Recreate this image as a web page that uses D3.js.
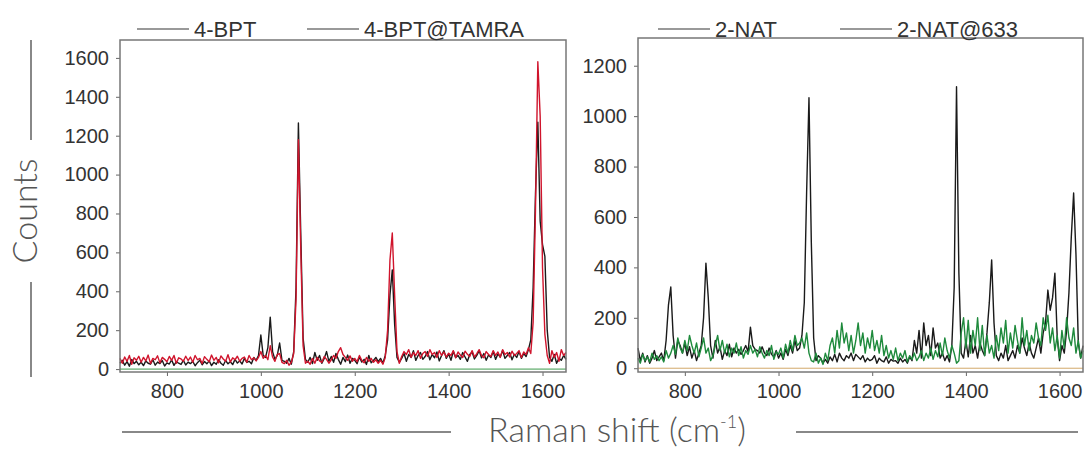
<!DOCTYPE html>
<html>
<head>
<meta charset="utf-8">
<script src="https://cdn.jsdelivr.net/npm/d3@7"></script>
<style>
  body { margin: 0; background: #fff; }
  svg { display: block; }
  .tick text { font-family: "Liberation Sans", Arial, sans-serif; font-size: 20px; fill: #333; }
  .tick line { stroke: #666; }
  .legend text { font-family: "Liberation Sans", Arial, sans-serif; font-size: 22px; fill: #333; }
  .title { font-family: Lato, "Open Sans", sans-serif; font-weight: 300; fill: #555; }
</style>
</head>
<body>
<div id="chart"></div>
<script>
// Raman shift grid, cm-1 (700 .. 1650, 5 cm-1 step)
const shifts = d3.range(700, 1651, 5);
const xTicks = [800, 1000, 1200, 1400, 1600];
const leftTicks = [0, 200, 400, 600, 800, 1000, 1200, 1400, 1600];
const rightTicks = [0, 200, 400, 600, 800, 1000, 1200];

// left panel
const bpt = [
  30,45,20,38,15,50,28,40,22,35,
  18,42,30,25,48,20,36,28,44,16,
  32,26,47,19,38,30,24,45,21,36,
  28,40,17,33,46,22,39,27,42,18,
  35,25,48,30,20,44,27,38,23,50,
  31,42,26,55,34,40,28,60,45,70,
  175,70,60,110,267,90,50,70,134,45,
  40,30,55,25,90,420,1265,700,160,50,
  35,60,28,85,45,70,30,55,90,40,
  65,35,80,50,25,60,38,72,30,55,
  45,28,62,36,50,24,70,32,45,60,
  38,55,30,70,150,380,510,230,60,35,
  55,80,40,75,60,95,45,70,85,50,
  65,90,48,75,58,88,42,70,95,55,
  78,45,92,60,70,50,85,62,40,75,
  88,52,70,95,58,80,45,72,60,90,
  50,78,62,95,55,70,85,48,76,60,
  90,55,80,65,100,150,420,900,1270,760,
  640,580,200,60,40,75,30,55,45,70,
  50
];
const bptTamra = [
  55,30,62,40,70,25,58,45,66,35,
  60,42,72,28,55,48,68,32,60,50,
  38,65,45,70,30,58,52,40,66,44,
  62,35,70,48,55,28,64,50,38,72,
  45,60,32,68,52,40,74,36,58,48,
  66,40,55,62,35,70,48,58,42,60,
  90,55,70,48,120,62,40,75,80,35,
  28,45,20,35,80,360,1180,620,120,30,
  40,25,55,30,60,42,35,65,50,30,
  48,70,55,90,110,75,60,45,68,40,
  55,38,70,45,32,60,40,55,35,48,
  30,45,25,60,200,560,700,380,90,30,
  65,90,75,100,60,85,70,95,55,80,
  90,65,100,75,85,60,95,70,88,62,
  82,70,95,58,88,72,60,92,76,65,
  95,62,80,100,70,58,90,75,65,95,
  70,88,60,100,75,85,62,92,70,80,
  95,60,88,75,110,80,240,820,1580,1300,
  520,180,70,30,95,60,85,40,100,70,
  85
];

// right panel
const nat = [
  80,30,60,25,50,20,40,70,30,45,
  60,30,110,250,322,130,40,110,90,60,
  100,50,85,40,70,30,60,90,200,417,
  280,90,40,110,60,85,35,70,50,95,
  45,80,60,75,55,70,90,65,163,90,
  75,70,60,85,60,50,80,55,45,70,
  40,60,35,75,50,90,60,110,70,80,
  130,260,700,1073,500,120,30,50,40,20,
  35,20,45,30,55,25,60,40,30,50,
  40,60,30,55,45,35,50,25,40,30,
  35,50,20,40,30,25,45,20,35,28,
  30,20,40,25,35,20,45,30,110,60,
  150,40,180,90,130,50,160,80,100,40,
  60,30,50,25,90,320,1117,380,60,40,
  110,45,130,60,90,40,100,70,50,140,
  260,430,180,50,30,60,40,90,30,50,
  70,40,90,60,120,80,50,100,60,40,
  80,120,60,140,180,310,230,280,377,120,
  30,90,60,150,300,520,695,450,100,40,
  90
];
const nat633 = [
  40,20,55,30,45,25,60,35,50,30,
  45,25,70,40,60,90,55,120,80,60,
  110,70,130,90,60,100,45,80,120,60,
  80,30,50,90,130,70,110,60,95,45,
  80,60,100,50,85,40,70,55,90,60,
  75,45,85,60,40,70,50,90,35,65,
  55,80,40,95,60,110,70,130,90,100,
  120,80,140,60,30,25,60,20,40,15,
  60,30,90,120,60,150,80,180,100,140,
  70,130,60,110,180,90,140,60,120,80,
  150,70,110,60,130,50,90,40,70,35,
  80,30,60,40,70,25,50,35,60,30,
  45,70,30,60,40,80,35,70,45,100,
  50,120,70,40,90,60,20,30,140,200,
  80,190,60,150,90,200,70,170,50,130,
  60,90,40,130,70,160,100,190,60,140,
  80,170,110,60,200,90,150,70,130,100,
  180,120,90,200,150,210,100,160,70,130,
  40,150,80,200,120,90,160,60,110,40,
  70
];

const W = 1092, H = 452;
const svg = d3.select("#chart").append("svg")
  .attr("width", W)
  .attr("height", H);

const panels = [
  {
    x: d3.scaleLinear().domain([700, 1650]).range([120, 566]),
    y: d3.scaleLinear().domain([-15, 1692]).range([372, 40]),
    ticks: leftTicks,
    zero: "#3c9a4a",
    series: [{ values: bpt, color: "#1a1a1a" }, { values: bptTamra, color: "#d0142c" }],
    legend: [{ label: "4-BPT", x: 137 }, { label: "4-BPT@TAMRA", x: 307 }]
  },
  {
    x: d3.scaleLinear().domain([700, 1650]).range([638, 1083]),
    y: d3.scaleLinear().domain([-15, 1310]).range([372, 38]),
    ticks: rightTicks,
    zero: "#d2a86a",
    series: [{ values: nat, color: "#1a1a1a" }, { values: nat633, color: "#1e8a3c" }],
    legend: [{ label: "2-NAT", x: 658 }, { label: "2-NAT@633", x: 840 }]
  }
];

panels.forEach(function(p) {
  let [x0, x1] = p.x.range();
  let [y0, y1] = p.y.range();

  // axes
  svg.append("g")
    .attr("transform", "translate(" + x0 + ",0)")
    .call(d3.axisLeft(p.y).tickValues(p.ticks).tickFormat(d3.format("d")).tickSize(4).tickPadding(7))
    .call(g => g.select(".domain").remove());
  svg.append("g")
    .attr("transform", "translate(0," + y0 + ")")
    .call(d3.axisBottom(p.x).tickValues(xTicks).tickFormat(d3.format("d")).tickSize(4).tickPadding(8))
    .call(g => g.select(".domain").remove());

  // zero line
  svg.append("line")
    .attr("x1", x0).attr("x2", x1)
    .attr("y1", p.y(0)).attr("y2", p.y(0))
    .attr("stroke", p.zero).attr("stroke-width", 1);

  // spectra
  let line = d3.line()
    .x((d, i) => p.x(shifts[i]))
    .y(d => p.y(d));
  p.series.forEach(function(s) {
    svg.append("path")
      .datum(s.values)
      .attr("fill", "none")
      .attr("stroke", s.color)
      .attr("stroke-width", 1.4)
      .attr("stroke-linejoin", "round")
      .attr("d", line);
  });

  // frame
  svg.append("rect")
    .attr("x", x0).attr("y", y1)
    .attr("width", x1 - x0).attr("height", y0 - y1)
    .attr("fill", "none")
    .attr("stroke", "#777")
    .attr("stroke-width", 1.5);

  // legend
  let lg = svg.append("g").attr("class", "legend");
  p.legend.forEach(function(l) {
    lg.append("line")
      .attr("x1", l.x).attr("x2", l.x + 52)
      .attr("y1", 29).attr("y2", 29)
      .attr("stroke", "#777").attr("stroke-width", 1.5);
    lg.append("text")
      .attr("x", l.x + 57).attr("y", 37)
      .text(l.label);
  });
});

// y title with rules
svg.append("text")
  .attr("class", "title")
  .attr("transform", "translate(37,211) rotate(-90)")
  .attr("text-anchor", "middle")
  .attr("font-size", 34)
  .text("Counts");
svg.append("line").attr("x1", 31).attr("x2", 31).attr("y1", 40).attr("y2", 140)
  .attr("stroke", "#888").attr("stroke-width", 2);
svg.append("line").attr("x1", 31).attr("x2", 31).attr("y1", 282).attr("y2", 377)
  .attr("stroke", "#888").attr("stroke-width", 2);

// x title with rules
let xt = svg.append("text")
  .attr("class", "title")
  .attr("x", 617).attr("y", 442)
  .attr("text-anchor", "middle")
  .attr("font-size", 34);
xt.append("tspan").text("Raman shift (cm");
xt.append("tspan").attr("font-size", 18).attr("dy", -14).text("-1");
xt.append("tspan").attr("dy", 14).text(")");
svg.append("line").attr("x1", 122).attr("x2", 451).attr("y1", 432).attr("y2", 432)
  .attr("stroke", "#888").attr("stroke-width", 2);
svg.append("line").attr("x1", 796).attr("x2", 1078).attr("y1", 432).attr("y2", 432)
  .attr("stroke", "#888").attr("stroke-width", 2);
</script>
</body>
</html>
